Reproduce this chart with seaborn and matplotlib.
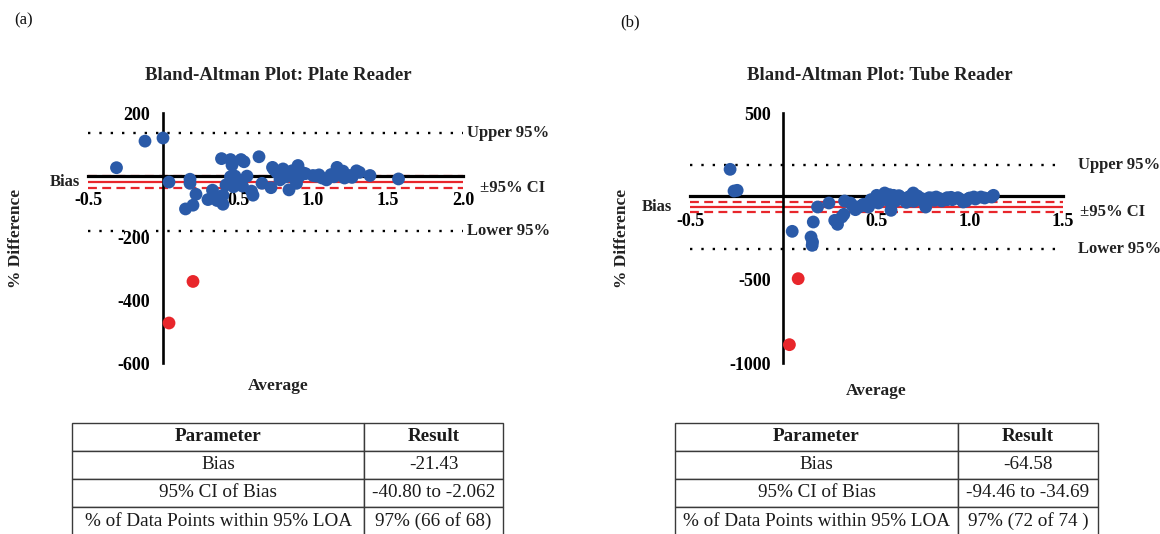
import matplotlib
matplotlib.use("Agg")
import matplotlib.pyplot as plt
import seaborn as sns
import pandas as pd
from matplotlib.transforms import offset_copy

# ---------------- data ----------------
plate_avg = [-0.31, -0.12, 0.00, 0.04, 0.18, 0.18, 0.22, 0.15, 0.20, 0.30, 0.33, 0.36, 0.40, 0.40,
             0.39, 0.45, 0.46, 0.52, 0.54, 0.64, 0.45, 0.48, 0.44, 0.50, 0.47, 0.53, 0.56, 0.59,
             0.60, 0.66, 0.72, 0.74, 0.73, 0.76, 0.80, 0.83, 0.79, 0.86, 0.90, 0.91, 0.93, 0.84,
             0.89, 0.95, 0.88, 1.02, 1.06, 1.09, 1.12, 1.16, 1.18, 1.21, 1.24, 1.29, 1.31, 1.38,
             1.57, 0.78, 0.82, 1.00, 1.04, 1.14, 1.20, 1.26, 0.42, 0.37]
plate_diff = [25, 110, 120, -21, -12, -25, -60, -107, -95, -77, -47, -80, -92, -63,
              54, 51, 33, 51, 44, 60, -4, -2, -25, -22, -36, -34, -2, -50,
              -63, -25, -39, 19, 26, 9, 21, 3, -8, 15, 32, -2, 9, -46,
              -25, 6, -10, -2, -8, -14, 3, 26, 9, -8, 0, 15, 10, 0,
              -11, -14, -4, 0, 2, -4, 14, -6, -30, -70]
plate_out_avg = [0.04, 0.20]
plate_out_diff = [-472, -339]
plate_bias = -21.43
plate_ci = [-40.80, -2.062]
plate_loa = [135.4, -178.2]

tube_avg = [-0.285, -0.264, -0.247, 0.048, 0.149, 0.157, 0.155, 0.161, 0.184, 0.245, 0.276, 0.291,
            0.314, 0.325, 0.329, 0.371, 0.387, 0.406, 0.429, 0.457, 0.486, 0.501, 0.524, 0.544,
            0.559, 0.578, 0.591, 0.620, 0.649, 0.674, 0.697, 0.716, 0.744, 0.764, 0.783, 0.811,
            0.840, 0.879, 0.907, 0.936, 0.965, 0.993, 1.022, 1.060, 1.118, 1.127,
            0.47, 0.51, 0.53, 0.55, 0.57, 0.60, 0.62, 0.64, 0.66, 0.68, 0.70, 0.72, 0.75, 0.77,
            0.80, 0.82, 0.85, 0.88, 0.90, 0.95, 0.98, 1.00, 1.03, 1.08, 0.36, 0.42]
tube_diff = [162, 32, 36, -210, -244, -274, -294, -154, -64, -40, -144, -168,
             -124, -108, -28, -54, -80, -64, -48, -64, -34, 6, -14, 20,
             -24, -84, 6, -14, -24, -4, 20, -20, -14, -64, -8, -24,
             -14, -8, -20, -8, -34, -14, -4, -4, -4, 6,
             -20, -40, 0, -8, 10, -30, 4, -10, -36, 0, -30, 2, -30, -40,
             -10, -4, -28, -20, -6, -18, -28, -10, -16, -10, -40, -56]
tube_out_avg = [0.080, 0.033]
tube_out_diff = [-494, -890]
tube_bias = -64.58
tube_ci = [-94.46, -34.69]
tube_loa = [188.2, -317.4]

table_header = ["Parameter", "Result"]
table_params = ["Bias", "95% CI of Bias", "% of Data Points within 95% LOA"]
plate_results = ["-21.43", "-40.80 to -2.062", "97% (66 of 68)"]
tube_results = ["-64.58", "-94.46 to -34.69", "97% (72 of 74 )"]

# ---------------- style ----------------
sns.set_theme(style="white")
plt.rcParams['font.family'] = ['Liberation Serif', 'DejaVu Serif']
plt.rcParams['axes.unicode_minus'] = False

BLUE = "#2a5aa8"
RED = "#e8262b"
W, H = 1160, 534
fig = plt.figure(figsize=(W / 100, H / 100), dpi=100)


def px_axes(x0, y0, x1, y1):
    return fig.add_axes([x0 / W, 1 - y1 / H, (x1 - x0) / W, (y1 - y0) / H])


def ba_panel(ax, avg, diff, out_avg, out_diff, bias, ci, loa, xlim, ylim,
             xticks, yticks, title, lab, title_xy, xlabel_xy, ylabel_xy):
    ax.set_xlim(xlim)
    ax.set_ylim(ylim)
    ax.patch.set_alpha(0)
    ax.hlines(loa, xlim[0], xlim[1], colors='black', linestyles=(0, (1, 3.8)), lw=1.7, zorder=2)
    ax.hlines([bias], xlim[0], xlim[1], colors=RED, linestyles='solid', lw=1.6, zorder=2)
    ax.hlines(ci, xlim[0], xlim[1], colors=RED, linestyles=(0, (4, 2.4)), lw=1.6, zorder=2)
    df = pd.DataFrame({'avg': list(avg) + list(out_avg),
                       'diff': list(diff) + list(out_diff),
                       'grp': ['in'] * len(avg) + ['out'] * len(out_avg)})
    sns.scatterplot(data=df, x='avg', y='diff', hue='grp', palette={'in': BLUE, 'out': RED},
                    s=85, linewidth=0, legend=False, ax=ax, zorder=4, clip_on=False)
    for s in ['top', 'right']:
        ax.spines[s].set_visible(False)
    ax.spines['left'].set_position(('data', 0))
    ax.spines['bottom'].set_position(('data', 0))
    ax.spines['left'].set_linewidth(1.9)
    ax.spines['bottom'].set_linewidth(2.3)
    ax.spines['left'].set_color('black')
    ax.spines['bottom'].set_color('black')
    ax.set_xticks(xticks)
    ax.set_xticklabels([f"{t:.1f}" for t in xticks])
    ax.set_yticks(yticks)
    ax.set_yticklabels([f"{t:d}" for t in yticks])
    ax.set_yticks(list(loa) + list(ci) + [bias], minor=True)
    ax.tick_params(axis='x', which='major', direction='out', length=7, width=1.9,
                   labelsize=13, color='black', labelcolor='black', pad=5)
    ax.tick_params(axis='y', which='major', direction='out', length=7, width=1.9,
                   labelsize=13, color='black', labelcolor='black', pad=2)
    ax.tick_params(axis='y', which='minor', direction='out', length=7, width=1.9, color='black')
    ax.tick_params(axis='x', which='minor', length=0)
    for t in ax.get_xticklabels() + ax.get_yticklabels():
        t.set_fontweight('bold')
    ax.set_xlabel("Average", fontsize=12.5, fontweight='bold', color='#222')
    ax.set_ylabel("% Difference", fontsize=12.5, fontweight='bold', color='#222')
    ax.xaxis.set_label_coords(*xlabel_xy)
    ax.yaxis.set_label_coords(*ylabel_xy)
    ax.text(title_xy[0], title_xy[1], title, transform=ax.transAxes, ha='center', va='center',
            fontsize=13.5, fontweight='bold', color='#222')
    # line labels
    off = lambda dx: offset_copy(ax.transData, fig=fig, x=dx, y=0, units='dots')
    ax.text(xlim[1], loa[0], "Upper 95%", transform=off(lab[0]), ha='left', va='center',
            fontsize=12, fontweight='bold', color='#222')
    ax.text(xlim[1], loa[1], "Lower 95%", transform=off(lab[0]), ha='left', va='center',
            fontsize=12, fontweight='bold', color='#222')
    ax.text(xlim[1], ci[0], "±95% CI", transform=off(lab[1]), ha='left', va='center',
            fontsize=12, fontweight='bold', color='#222')
    ax.text(xlim[0], bias, "Bias", transform=off(-lab[2]), ha='right', va='center',
            fontsize=12, fontweight='bold', color='#222')


ax1 = px_axes(88, 113, 463, 363)
ba_panel(ax1, plate_avg, plate_diff, plate_out_avg, plate_out_diff, plate_bias, plate_ci,
         plate_loa, (-0.5, 2.0), (-600, 200), [-0.5, 0.5, 1.0, 1.5, 2.0], [200, -200, -400, -600],
         "Bland-Altman Plot: Plate Reader", (4, 17, 8), (0.507, 1.152), (0.507, -0.062), (-0.17, 0.5))

ax2 = px_axes(690, 113, 1063, 363)
ba_panel(ax2, tube_avg, tube_diff, tube_out_avg, tube_out_diff, tube_bias, tube_ci,
         tube_loa, (-0.5, 1.5), (-1000, 500), [-0.5, 0.5, 1.0, 1.5], [500, -500, -1000],
         "Bland-Altman Plot: Tube Reader", (15, 17, 18), (0.508, 1.152), (0.5, -0.08), (-0.16, 0.5))

fig.text(14 / W, 1 - 20 / H, "(a)", fontsize=12, ha='left', va='center', color='#111')
fig.text(620 / W, 1 - 22 / H, "(b)", fontsize=12, ha='left', va='center', color='#111')


def draw_table(x0, x1, xdiv, results):
    tax = px_axes(x0, 423, x1, 535)
    tax.axis('off')
    rows = [[p, r] for p, r in zip(table_params, results)]
    w0 = (xdiv - x0) / (x1 - x0)
    tb = tax.table(cellText=rows, colLabels=table_header, cellLoc='center',
                   colWidths=[w0, 1 - w0], bbox=[0, 0, 1, 1])
    tb.auto_set_font_size(False)
    for (r, c), cell in tb.get_celld().items():
        cell.set_edgecolor('#3a3a3a')
        cell.set_linewidth(1.0)
        cell.set_facecolor('white')
        txt = cell.get_text()
        txt.set_fontsize(13.8)
        txt.set_color('#1a1a1a')
        txt.set_fontweight('bold' if r == 0 else 'normal')


draw_table(72, 503, 364, plate_results)
draw_table(675, 1098, 958, tube_results)

fig.savefig("out.png", dpi=100)
